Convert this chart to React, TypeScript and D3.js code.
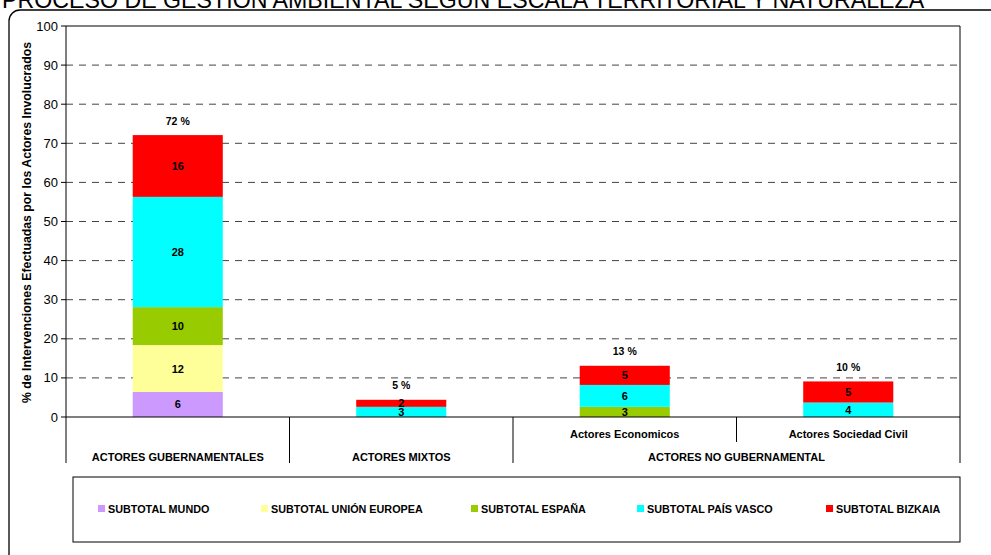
import React from "react";
import * as d3 from "d3";

// ---- data ----
const categories = ["Actores Gubernamentales", "Actores Mixtos", "Actores Economicos", "Actores Sociedad Civil"];
const subLabels = ["", "", "Actores Economicos", "Actores Sociedad Civil"];
const groupLabels = ["ACTORES GUBERNAMENTALES", "ACTORES MIXTOS", "ACTORES NO GUBERNAMENTAL"];
const groupSpans = [[0, 0], [1, 1], [2, 3]];
const seriesNames = ["SUBTOTAL MUNDO", "SUBTOTAL UNIÓN EUROPEA", "SUBTOTAL ESPAÑA", "SUBTOTAL PAÍS VASCO", "SUBTOTAL BIZKAIA"];
const mundo = [6.4, 0, 0, 0];
const unionEuropea = [12.0, 0, 0, 0];
const espana = [9.7, 0, 2.6, 0];
const paisVasco = [28.2, 2.6, 5.6, 3.7];
const bizkaia = [15.8, 1.8, 4.9, 5.4];
const totalLabels = ["72 %", "5 %", "13 %", "10 %"];
const yTicks = [0, 10, 20, 30, 40, 50, 60, 70, 80, 90, 100];

const colors = ["#CC99FF", "#FFFF99", "#99CC00", "#00FFFF", "#FF0000"];
const legendX = [98, 261, 471, 637, 826];

const FONT = "'Liberation Sans', Arial, sans-serif";

export default function App() {
  const left = 66, right = 960, top = 26, bottom = 417;
  const y = d3.scaleLinear().domain([0, 100]).range([bottom, top]);
  const x = d3.scaleBand<string>().domain(categories).range([left, right]).padding(0);
  const barW = x.bandwidth() * 0.403;

  const seriesValues = [mundo, unionEuropea, espana, paisVasco, bizkaia];
  const rows = categories.map((c, i) => {
    const o: any = { cat: c };
    seriesNames.forEach((s, j) => (o[s] = seriesValues[j][i]));
    return o;
  });
  const stacked = d3.stack<any>().keys(seriesNames)(rows);
  const fmt = d3.format(".0f");

  return (
    <svg width={991} height={555} style={{ position: "absolute", left: 0, top: 0, background: "#fff" }} fontFamily={FONT}>
      <rect x={0} y={0} width={991} height={555} fill="#fff" />
      {/* title (partly cut off at top) */}
      <text x={2} y={7.5} fontSize={23.2} fill="#000">PROCESO DE GESTIÓN AMBIENTAL SEGÚN ESCALA TERRITORIAL Y NATURALEZA</text>
      {/* outer frame */}
      <rect x={9} y={10} width={1100} height={600} rx={11} ry={11} fill="none" stroke="#000" strokeWidth={1.3} />

      {/* gridlines */}
      {yTicks.filter((t) => t > 0 && t < 100).map((t) => (
        <line key={t} x1={left} x2={right} y1={y(t)} y2={y(t)} stroke="#444" strokeWidth={1} strokeDasharray="7,6" />
      ))}
      {/* plot border top/right */}
      <line x1={left} x2={right} y1={top} y2={top} stroke="#000" strokeWidth={1} />
      <line x1={right} x2={right} y1={top} y2={bottom} stroke="#000" strokeWidth={1} />

      {/* bars */}
      {stacked.map((layer, j) => (
        <g key={layer.key} fill={colors[j]}>
          {layer.map((d, i) =>
            d[1] - d[0] > 0 ? (
              <rect key={i} x={(x(categories[i]) as number) + (x.bandwidth() - barW) / 2} y={y(d[1])} width={barW} height={y(d[0]) - y(d[1])} />
            ) : null
          )}
        </g>
      ))}
      {/* segment labels */}
      {stacked.map((layer, j) => (
        <g key={"l" + layer.key}>
          {layer.map((d, i) =>
            d[1] - d[0] > 0 ? (
              <text key={i} x={(x(categories[i]) as number) + x.bandwidth() / 2} y={(y(d[0]) + y(d[1])) / 2 + 4}
                textAnchor="middle" fontSize={11} fontWeight="bold" fill="#000">{fmt(d[1] - d[0])}</text>
            ) : null
          )}
        </g>
      ))}
      {/* total labels */}
      {categories.map((c, i) => {
        const tot = d3.sum(seriesValues, (s) => s[i]);
        return (
          <text key={c} x={(x(c) as number) + x.bandwidth() / 2} y={y(tot) - 10.5} textAnchor="middle" fontSize={10.5} fontWeight="bold" fill="#000">
            {totalLabels[i]}
          </text>
        );
      })}

      {/* y axis */}
      <line x1={left} x2={left} y1={top} y2={bottom} stroke="#000" strokeWidth={1} />
      {yTicks.map((t) => (
        <g key={"t" + t}>
          <line x1={left - 5} x2={left} y1={y(t)} y2={y(t)} stroke="#000" />
          <text x={58} y={y(t) + 4.5} textAnchor="end" fontSize={13} fill="#000">{t}</text>
        </g>
      ))}
      <text transform={`translate(31,${(top + bottom) / 2 + 1}) rotate(-90)`} textAnchor="middle" fontSize={12.3} fontWeight="bold" fill="#000">
        % de Intervenciones Efectuadas por los Actores Involucrados
      </text>

      {/* x axis & category table */}
      <line x1={left} x2={right} y1={bottom} y2={bottom} stroke="#000" strokeWidth={1.2} />
      {categories.map((c, i) => {
        const x0 = x(c) as number;
        const isGroupStart = groupSpans.some((g) => g[0] === i);
        return <line key={"v" + c} x1={x0} x2={x0} y1={bottom} y2={isGroupStart ? 463 : 442} stroke="#000" />;
      })}
      <line x1={right} x2={right} y1={bottom} y2={463} stroke="#000" />
      {subLabels.map((s, i) =>
        s ? (
          <text key={"s" + i} x={(x(categories[i]) as number) + x.bandwidth() / 2} y={438} textAnchor="middle" fontSize={11} fontWeight="bold" fill="#000">{s}</text>
        ) : null
      )}
      {groupLabels.map((g, k) => {
        const a = x(categories[groupSpans[k][0]]) as number;
        const b = (x(categories[groupSpans[k][1]]) as number) + x.bandwidth();
        return (
          <text key={g} x={(a + b) / 2} y={460.5} textAnchor="middle" fontSize={11} fontWeight="bold" fill="#000">{g}</text>
        );
      })}

      {/* legend */}
      <rect x={73} y={477} width={right - 73} height={65} fill="#fff" stroke="#000" strokeWidth={1} />
      {seriesNames.map((s, j) => (
        <g key={"lg" + s}>
          <rect x={legendX[j]} y={505} width={7} height={7} fill={colors[j]} />
          <text x={legendX[j] + 10} y={512.5} fontSize={10.8} fontWeight="bold" fill="#000">{s}</text>
        </g>
      ))}
    </svg>
  );
}
